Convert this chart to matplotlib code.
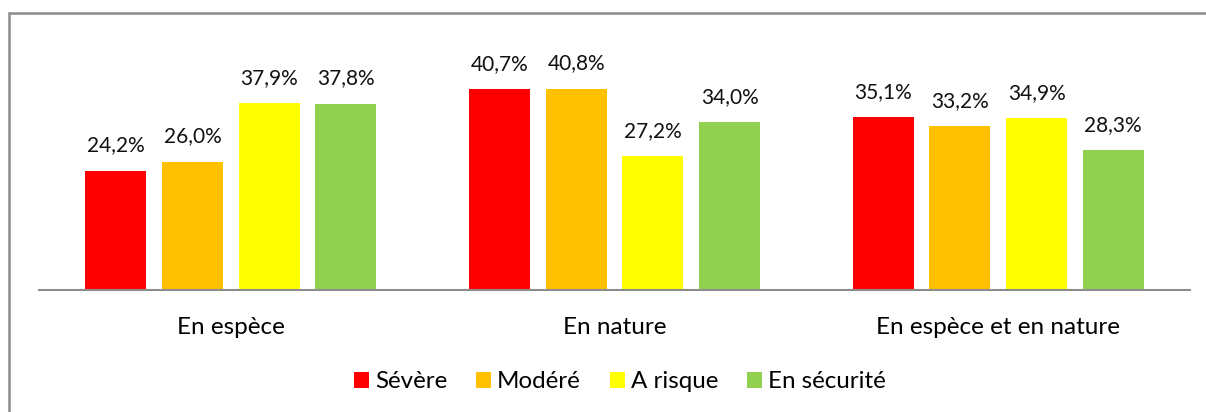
import numpy as np
import matplotlib
matplotlib.use("Agg")
import matplotlib.pyplot as plt
from matplotlib.patches import Rectangle

categories = ["En espèce", "En nature", "En espèce et en nature"]
series_names = ["Sévère", "Modéré", "A risque", "En sécurité"]
severe = [24.2, 40.7, 35.1]
modere = [26.0, 40.8, 33.2]
a_risque = [37.9, 27.2, 34.9]
securite = [37.8, 34.0, 28.3]

colours = ["#FF0000", "#FFC000", "#FFFF00", "#92D050"]

plt.rcParams['font.family'] = ['Lato', 'DejaVu Sans']

fig = plt.figure(figsize=(12.06, 4.12), dpi=100)
ax = fig.add_axes([39/1206, 1 - 290/412, (1190 - 39)/1206, (290 - 43.5)/412])

x = np.arange(len(categories))
width = 0.159
offsets = [-0.3, -0.1, 0.1, 0.3]

for vals, name, col, off in zip([severe, modere, a_risque, securite], series_names, colours, offsets):
    bars = ax.bar(x + off, vals, width, color=col, label=name)
    for b, v in zip(bars, vals):
        ax.annotate(f"{v:.1f}%".replace(".", ","), (b.get_x() + b.get_width()/2, v),
                    xytext=(0, 11), textcoords="offset points", ha="center", va="bottom",
                    fontsize=15, color="#111111")

ax.set_xlim(-0.5, 2.5)
ax.set_ylim(0, 50)
ax.set_yticks([])
ax.set_xticks(x)
ax.set_xticklabels(categories, fontsize=17.5)
ax.tick_params(axis="x", length=0, pad=19.5)
for s in ["top", "right", "left"]:
    ax.spines[s].set_visible(False)
ax.spines["bottom"].set_color("#8C8C8C")
ax.spines["bottom"].set_linewidth(1.5)

fig.legend(loc="center", bbox_to_anchor=(620/1206, 1 - 382/412), ncol=4, frameon=False,
           fontsize=17.4, handlelength=0.62, handleheight=0.62, handletextpad=0.25,
           columnspacing=1.2)

# outer frame (chart border, runs off right and bottom edges)
fig.patches.append(Rectangle((9/1206, -0.1), 1.2, 1.1 - 13/412, transform=fig.transFigure,
                             fill=False, edgecolor="#8C8C8C", linewidth=1.8))

fig.savefig("out.png", dpi=100)
